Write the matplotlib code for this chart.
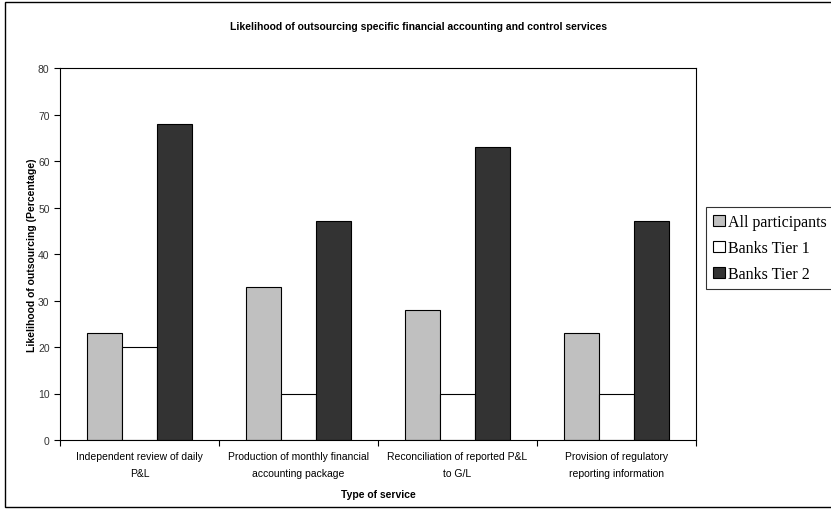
import matplotlib as mpl
mpl.use('Agg')

import numpy as np
import matplotlib.pyplot as plt
from matplotlib.patches import Rectangle

services = ["Independent review of daily\nP&L",
            "Production of monthly financial\naccounting package",
            "Reconciliation of reported P&L\nto G/L",
            "Provision of regulatory\nreporting information"]
all_participants = [23, 33, 28, 23]
banks_tier1 = [20, 10, 10, 10]
banks_tier2 = [68, 47, 63, 47]

series = [("All participants", all_participants, "#c0c0c0"),
          ("Banks Tier 1", banks_tier1, "#ffffff"),
          ("Banks Tier 2", banks_tier2, "#333333")]

plt.rcParams['font.family'] = ['Liberation Sans', 'DejaVu Sans']

fig = plt.figure(figsize=(8.31, 5.10), dpi=100)
W, H = 831, 510
ax = fig.add_axes([60 / W, 1 - 441 / H, (696 - 60) / W, (441 - 69) / H])

x = np.arange(len(services))
width = 0.22
for k, (name, vals, col) in enumerate(series):
    ax.bar(x + (k - 1) * width, vals, width, color=col, edgecolor='black',
           linewidth=0.8, label=name)

ax.set_xlim(-0.5, len(services) - 0.5)
ax.set_ylim(0, 80)
ax.set_yticks(range(0, 81, 10))
ax.set_xticks(np.arange(-0.5, len(services), 1.0), minor=False)
ax.set_xticklabels([])
ax.set_xticks(x, minor=True)
ax.set_xticklabels(services, minor=True, fontsize=7.5, linespacing=1.9)
ax.tick_params(axis='x', which='minor', length=0, pad=8)
ax.tick_params(axis='x', which='major', length=4, direction='out', width=0.8)
ax.tick_params(axis='y', length=4, width=0.8, labelsize=7.5, labelcolor='#333333')
for s in ax.spines.values():
    s.set_linewidth(0.8)

ax.set_ylabel("Likelihood of outsourcing (Percentage)", fontsize=7.5,
              fontweight='bold')
ax.yaxis.set_label_coords(-23 / 636, 0.5)
ax.set_xlabel("Type of service", fontsize=7.5, fontweight='bold', labelpad=8)
fig.text(418 / W, 1 - 27 / H,
         "Likelihood of outsourcing specific financial accounting and control services",
         ha='center', va='center', fontsize=7.5, fontweight='bold')

leg = ax.legend(loc='upper left', bbox_to_anchor=(706 / W, 1 - 208 / H),
                bbox_transform=fig.transFigure, frameon=True, fancybox=False,
                prop={'family': 'Liberation Serif', 'size': 11.5},
                handlelength=0.75, handleheight=0.75, handletextpad=0.2,
                labelspacing=0.62, borderpad=0.45, borderaxespad=0)
leg.get_frame().set_edgecolor('black')
leg.get_frame().set_linewidth(0.8)

# outer chart border
fig.patches.append(Rectangle((5 / W, 2 / H), (W - 4) / W, (H - 5) / H,
                             transform=fig.transFigure, fill=False,
                             edgecolor='black', linewidth=1.0))

plt.savefig('out.png', dpi=100)
